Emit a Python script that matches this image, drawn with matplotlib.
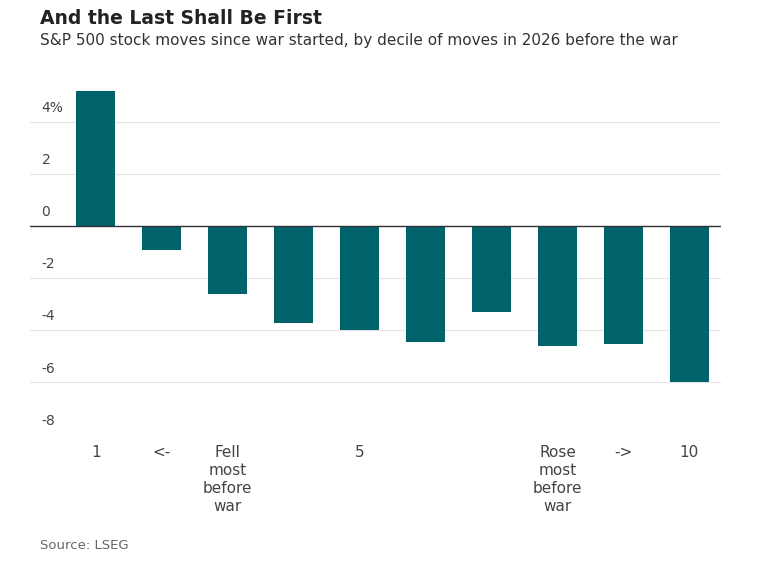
import matplotlib.pyplot as plt

labels = ['1', '<-', 'Fell\nmost\nbefore\nwar', '', '5', '', '', 'Rose\nmost\nbefore\nwar', '->', '10']
moves = [5.2, -0.92, -2.6, -3.73, -4.0, -4.46, -3.3, -4.6, -4.54, -6.0]
teal = '#00626a'

fig = plt.figure(figsize=(7.61, 5.63), dpi=100)
ax = fig.add_axes([0.039, 0.229, 0.909, 0.624])
x = list(range(len(moves)))
ax.bar(x, moves, width=0.6, color=teal, zorder=3)
ax.set_xlim(-1.0, 9.485)
ax.set_ylim(-8, 5.5)

for v in [4, 2, -2, -4, -6, -8]:
    ax.axhline(v, color='#e3e3e3', lw=0.8, zorder=1)
ax.axhline(0, color='#333333', lw=1.0, zorder=4)
for v in [4, 2, 0, -2, -4, -6, -8]:
    ax.text(-0.82, v + 0.25, f'{v}%' if v == 4 else str(v), fontsize=10,
            color='#444444', ha='left', va='bottom')

ax.set_yticks([])
ax.set_xticks(x)
ax.set_xticklabels(labels, fontsize=11, color='#444444', linespacing=1.25, va='top')
ax.tick_params(axis='x', length=0, pad=8)
for s in ax.spines.values():
    s.set_visible(False)

fig.text(0.053, 0.968, 'And the Last Shall Be First', fontsize=13.5, fontweight='bold',
         color='#222222', va='center')
fig.text(0.053, 0.928, 'S&P 500 stock moves since war started, by decile of moves in 2026 before the war',
         fontsize=11, color='#333333', va='center')
fig.text(0.053, 0.031, 'Source: LSEG', fontsize=9.5, color='#666666', va='center')

fig.savefig('out.png', dpi=100)
